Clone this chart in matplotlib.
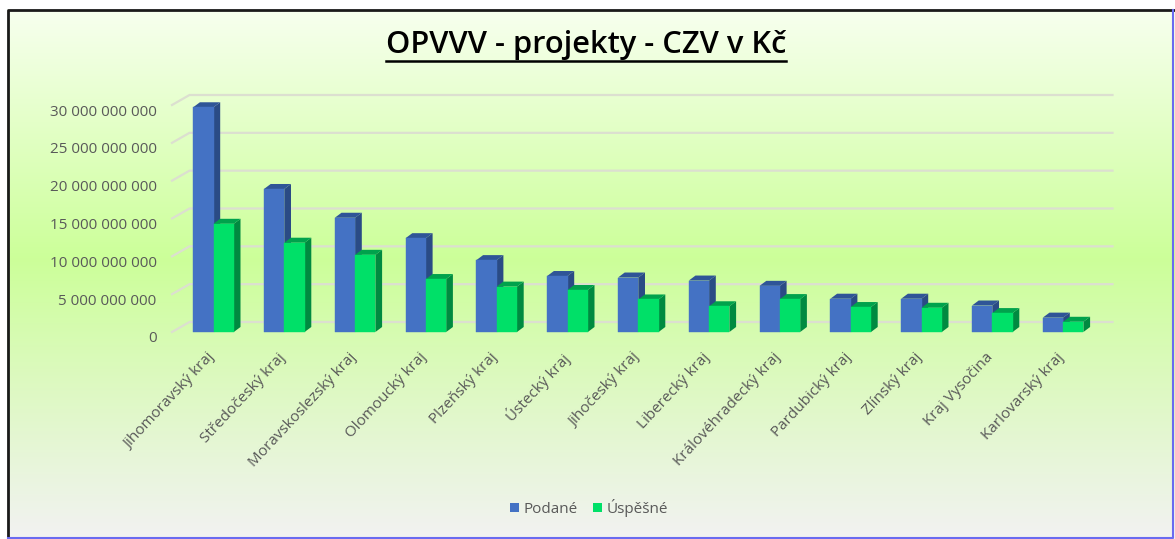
# -*- coding: utf-8 -*-
import numpy as np
import matplotlib
matplotlib.use('Agg')
import matplotlib.pyplot as plt
from matplotlib.colors import LinearSegmentedColormap
from matplotlib.lines import Line2D
from matplotlib.patches import Polygon, Rectangle
from matplotlib.transforms import ScaledTranslation

regions = ['Jihomoravský kraj', 'Středočeský kraj', 'Moravskoslezský kraj', 'Olomoucký kraj',
           'Plzeňský kraj', 'Ústecký kraj', 'Jihočeský kraj', 'Liberecký kraj',
           'Královéhradecký kraj', 'Pardubický kraj', 'Zlínský kraj', 'Kraj Vysočina',
           'Karlovarský kraj']
podane = [29.7e9, 18.9e9, 15.1e9, 12.4e9, 9.5e9, 7.4e9, 7.2e9, 6.8e9, 6.1e9, 4.4e9, 4.4e9, 3.5e9, 1.9e9]
uspesne = [14.3e9, 11.8e9, 10.2e9, 7.0e9, 6.0e9, 5.55e9, 4.3e9, 3.4e9, 4.35e9, 3.3e9, 3.2e9, 2.5e9, 1.35e9]
yticks = [0, 5e9, 10e9, 15e9, 20e9, 25e9, 30e9]
ylabels = ['0', '5 000 000 000', '10 000 000 000', '15 000 000 000',
           '20 000 000 000', '25 000 000 000', '30 000 000 000']

W, H = 1175, 539
TEXT = '#595959'
plt.rcParams['font.family'] = ['Open Sans', 'DejaVu Sans']

fig = plt.figure(figsize=(W/100, H/100), dpi=100)

# background gradient
bg = fig.add_axes([0, 0, 1, 1], zorder=0)
cmap = LinearSegmentedColormap.from_list('bg', [(0, '#f9fff2'), (0.48, '#ccff99'), (1, '#f2f2f2')])
bg.imshow(np.linspace(0, 1, 256).reshape(-1, 1), aspect='auto', cmap=cmap, extent=(0, W, H, 0))
bg.set_xlim(0, W)
bg.set_ylim(H, 0)
bg.axis('off')
# frame, dark on top and left, blue on the other two sides
bg.add_patch(Rectangle((0, 0), W, 9, fc='white', ec='none'))
bg.add_patch(Rectangle((0, 0), 7, H, fc='white', ec='none'))
bg.plot([7.5, 7.5, W], [H, 9.5, 9.5], color='#1a1a1a', lw=2)
bg.plot([7.5, W-2.5, W-2.5], [H-1, H-1, 9.5], color='#6a6af0', lw=1.5)

# plot area is the front plane of the 3D chart
left, right, top, bottom = 172, 1095, 105, 332
ax = fig.add_axes([left/W, 1-bottom/H, (right-left)/W, (bottom-top)/H], zorder=1)
ax.patch.set_alpha(0)
px_cat = 70.8
x0 = (left-213.5)/px_cat
ax.set_xlim(x0, x0+(right-left)/px_cat)
ax.set_ylim(0, 30e9)
px_val = 30e9/(bottom-top)

bar_w = 20.3/px_cat
dx, dy = 6.7/px_cat, 5*px_val      # bar depth
gx, gy = 17.5/px_cat, 10*px_val    # wall depth

# gridlines, back wall plus the short piece on the side wall
for v in yticks:
    ax.plot([x0, x0+gx, x0+(right-left)/px_cat+gx], [v, v+gy, v+gy], color='#dcdfd0', lw=1.6,
            clip_on=False, zorder=1, solid_joinstyle='miter')


def draw_bars(xs, vals, front, side, cap, z):
    for x, v in zip(xs, vals):
        l, r = x-bar_w/2, x+bar_w/2
        ax.add_patch(Polygon([(r, 0), (r+dx, dy), (r+dx, v+dy), (r, v)], fc=side, ec='none', clip_on=False, zorder=z))
        ax.add_patch(Polygon([(l, v), (l+dx, v+dy), (r+dx, v+dy), (r, v)], fc=cap, ec='none', clip_on=False, zorder=z))
    ax.bar(xs, vals, width=bar_w, color=front, edgecolor=front, linewidth=0.3, clip_on=False, zorder=z+0.5)


xs = np.arange(len(regions))
draw_bars(xs-bar_w/2, podane, '#4472c4', '#2a4b85', '#2f5597', 2)
draw_bars(xs+bar_w/2, uspesne, '#00e068', '#008a40', '#00a24c', 3)

for s in ax.spines.values():
    s.set_visible(False)
ax.set_yticks(yticks)
ax.set_yticklabels(ylabels, color=TEXT, fontsize=11)
ax.set_xticks(xs)
ax.set_xticklabels(regions, color=TEXT, fontsize=11, rotation=47, ha='right', va='top', rotation_mode='anchor')
ax.tick_params(axis='both', length=0)
ax.tick_params(axis='y', pad=11)
ax.tick_params(axis='x', pad=13)
off = ScaledTranslation(0, -5/100, fig.dpi_scale_trans)
for lab in ax.get_yticklabels():
    lab.set_transform(lab.get_transform()+off)
off = ScaledTranslation(-7/100, 0, fig.dpi_scale_trans)
for lab in ax.get_xticklabels():
    lab.set_transform(lab.get_transform()+off)

# title with underline
title = fig.text(586/W, 1-45/H, 'OPVVV - projekty - CZV v Kč', ha='center', va='center',
                 fontsize=22.2, fontweight='semibold', color='black')
fig.canvas.draw()
bb = title.get_window_extent()
fig.add_artist(Line2D([bb.x0/W, bb.x1/W], [1-60.5/H, 1-60.5/H], color='black', lw=1.8))

handles = [Rectangle((0, 0), 1, 1, fc='#4472c4'), Rectangle((0, 0), 1, 1, fc='#00e068')]
fig.legend(handles, ['Podané', 'Úspěšné'], loc='center', bbox_to_anchor=(589/W, 1-508/H), ncol=2,
           frameon=False, fontsize=11, labelcolor=TEXT, handlelength=0.6, handleheight=0.6,
           handletextpad=0.3, columnspacing=1.0)

fig.savefig('out.png', dpi=100)
